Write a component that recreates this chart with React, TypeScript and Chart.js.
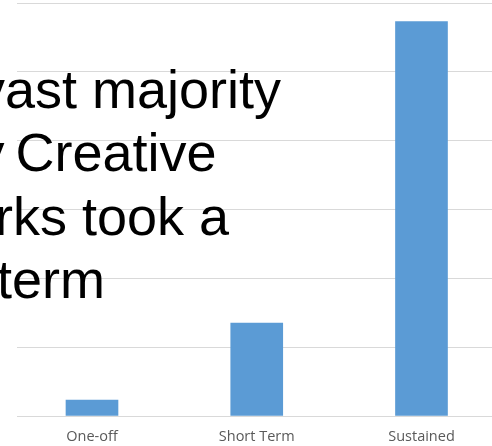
import React, { useEffect, useRef } from "react";
import { Chart, registerables } from "chart.js";

Chart.register(...registerables);

const categories: string[] = ["One-off", "Short Term", "Sustained"];
const values: number[] = [2.3, 13.5, 57.3];
const yTicks: number[] = [0, 10, 20, 30, 40, 50, 60];
const overlayLines: string[] = ["vast majority", "y Creative", "rks took a", "term"];

const W = 492;
const H = 446;

export default function App() {
  const ref = useRef<HTMLCanvasElement | null>(null);

  useEffect(() => {
    if (!ref.current) return;
    const chart = new Chart(ref.current, {
      type: "bar",
      data: {
        datasets: [
          {
            data: categories.map((c, i) => ({ x: i, y: values[i] })),
            backgroundColor: "#5b9bd5",
            borderWidth: 0,
            barThickness: 52,
          },
        ],
      },
      options: {
        responsive: false,
        animation: false,
        devicePixelRatio: 1,
        layout: { padding: { left: 17, right: 0, top: 3, bottom: 0 } },
        plugins: { legend: { display: false }, tooltip: { enabled: false } },
        scales: {
          x: {
            type: "linear",
            offset: false,
            min: -0.4552,
            max: 2.428,
            grid: { display: false, drawTicks: false, offset: false },
            border: { display: false },
            afterBuildTicks: (axis: any) => {
              axis.ticks = categories.map((_, i) => ({ value: i }));
            },
            afterFit: (axis: any) => {
              axis.height = 30;
            },
            ticks: {
              autoSkip: false,
              maxRotation: 0,
              padding: 12,
              color: "#595959",
              font: { family: "'Open Sans'", size: 14.5, lineHeight: 1.2 },
              callback: (v: any) => categories[Number(v)] ?? "",
            },
          },
          y: {
            min: yTicks[0],
            max: yTicks[yTicks.length - 1],
            ticks: { display: false, stepSize: yTicks[1] - yTicks[0] },
            grid: { color: "#d9d9d9", lineWidth: 1, drawTicks: false },
            border: { display: false },
          },
        },
      },
    });
    return () => chart.destroy();
  }, []);

  const fontSize = 54;
  const lineH = 63;
  const baseFromTop = (lineH - 1.117 * fontSize) / 2 + 0.905 * fontSize;
  const baselines = [108, 171.5, 235, 298];
  const lefts = [-22, -22.6, -5, -3];
  const wordSpacing = [0, -4, 0, 0];

  return (
    <div
      style={{
        position: "absolute",
        left: 0,
        top: 0,
        width: W,
        height: H,
        overflow: "hidden",
        background: "#ffffff",
      }}
    >
      <canvas ref={ref} width={W} height={H} style={{ display: "block", width: W, height: H }} />
      {overlayLines.map((t, i) => (
        <div
          key={i}
          style={{
            position: "absolute",
            left: lefts[i],
            top: baselines[i] - baseFromTop,
            fontFamily: "'Liberation Sans', Arial, sans-serif",
            fontSize: fontSize,
            lineHeight: lineH + "px",
            color: "#000000",
            whiteSpace: "pre",
            wordSpacing: wordSpacing[i],
          }}
        >
          {t}
        </div>
      ))}
    </div>
  );
}
